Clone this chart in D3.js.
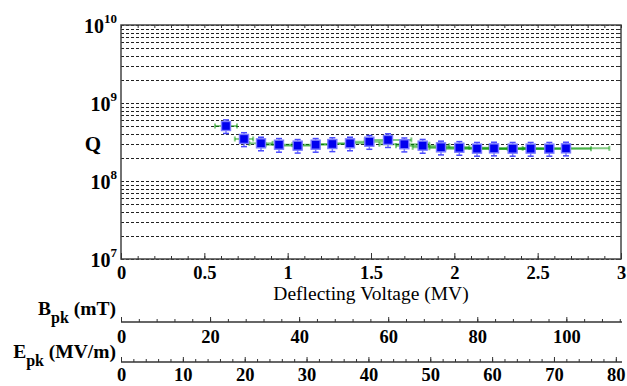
<!DOCTYPE html>
<html>
<head>
<meta charset="utf-8">
<script src="https://cdn.jsdelivr.net/npm/d3@7"></script>
<style>
  body { margin: 0; background: #fff; }
  svg { display: block; }
  svg text { font-family: "Liberation Serif", "Times New Roman", "DejaVu Serif", serif; }
</style>
</head>
<body>
<svg id="chart" width="627" height="386"></svg>
<script>
// measured points: deflecting voltage (MV) vs Q
const voltage = [0.63, 0.738, 0.84, 0.948, 1.06, 1.168, 1.268, 1.374, 1.49, 1.602,
                 1.70, 1.81, 1.92, 2.03, 2.136, 2.238, 2.35, 2.458, 2.57, 2.67];
const qValue = [5.07e8, 3.46e8, 3.04e8, 2.92e8, 2.84e8, 2.92e8, 2.98e8, 3.04e8, 3.19e8, 3.36e8,
                2.96e8, 2.84e8, 2.70e8, 2.67e8, 2.60e8, 2.62e8, 2.60e8, 2.60e8, 2.60e8, 2.62e8];
const qErr = [1.0e8, 0.7e8, 0.6e8, 0.58e8, 0.56e8, 0.58e8, 0.6e8, 0.6e8, 0.64e8, 0.67e8,
              0.6e8, 0.57e8, 0.54e8, 0.53e8, 0.52e8, 0.52e8, 0.52e8, 0.52e8, 0.52e8, 0.52e8];
const vErr = [0.066, 0.055, 0.07, 0.08, 0.09, 0.1, 0.11, 0.12, 0.13, 0.14,
              0.15, 0.16, 0.17, 0.18, 0.19, 0.2, 0.21, 0.23, 0.25, 0.26];

const xTickLabels = [0, 0.5, 1, 1.5, 2, 2.5, 3];
const yDecades = [1e7, 1e8, 1e9, 1e10];
const bpkTicks = [0, 20, 40, 60, 80, 100];
const epkTicks = [0, 10, 20, 30, 40, 50, 60, 70, 80];
const bpkMax = 112.5;   // mT at 3 MV
const epkMax = 81;      // MV/m at 3 MV

const serif = '"Liberation Serif", "Times New Roman", "DejaVu Serif", serif';
const svg = d3.select("#chart").attr("font-family", serif);
const pLeft = 121, pRight = 621, pTop = 25, pBottom = 259;
const tickFont = 18.5;

const x = d3.scaleLinear().domain([0, 3]).range([pLeft, pRight]);
const y = d3.scaleLog().domain([1e7, 1e10]).range([pBottom, pTop]);

// grid lines
svg.append("g")
  .selectAll("line")
  .data(y.ticks())
  .join("line")
  .attr("x1", pLeft).attr("x2", pRight)
  .attr("y1", d => Math.round(y(d)) + 0.5)
  .attr("y2", d => Math.round(y(d)) + 0.5)
  .attr("stroke", "#222")
  .attr("stroke-width", 1)
  .attr("stroke-dasharray", "3,2");

// right side ticks
svg.append("g")
  .selectAll("line")
  .data(y.ticks())
  .join("line")
  .attr("x1", pRight - 4).attr("x2", pRight)
  .attr("y1", d => Math.round(y(d)) + 0.5)
  .attr("y2", d => Math.round(y(d)) + 0.5)
  .attr("stroke", "#333");

// frame
svg.append("rect")
  .attr("x", pLeft).attr("y", pTop)
  .attr("width", pRight - pLeft).attr("height", pBottom - pTop)
  .attr("fill", "none")
  .attr("stroke", "#444")
  .attr("stroke-width", 1.5);

// bottom axis, minor + major ticks pointing in
const minorX = d3.range(0, 31).map(i => i / 10);
svg.append("g")
  .attr("transform", "translate(0," + pBottom + ")")
  .call(d3.axisBottom(x).tickValues(minorX).tickSize(-3).tickSizeOuter(0).tickFormat(""))
  .call(g => g.select(".domain").remove());
svg.append("g")
  .attr("transform", "translate(0," + pBottom + ")")
  .call(d3.axisBottom(x).tickValues(xTickLabels).tickSize(-6).tickSizeOuter(0).tickPadding(7)
    .tickFormat(d => d))
  .call(g => g.select(".domain").remove())
  .selectAll("text")
  .attr("font-size", tickFont).attr("font-weight", "bold").attr("fill", "#000")
  .attr("font-family", serif);
// top mirror ticks
svg.append("g")
  .attr("transform", "translate(0," + pTop + ")")
  .call(d3.axisTop(x).tickValues(minorX).tickSize(-3).tickSizeOuter(0).tickFormat(""))
  .call(g => g.select(".domain").remove());

svg.append("text")
  .attr("x", (pLeft + pRight) / 2).attr("y", 300)
  .attr("text-anchor", "middle")
  .attr("font-family", serif)
  .attr("font-size", 19.5)
  .text("Deflecting Voltage (MV)");

// y labels 10^n
const yLab = svg.append("g").selectAll("text")
  .data(yDecades)
  .join("text")
  .attr("x", 117)
  .attr("y", d => y(d) + 7.5)
  .attr("text-anchor", "end")
  .attr("font-family", serif)
  .attr("font-weight", "bold")
  .attr("font-size", 20);
yLab.append("tspan").text("10");
yLab.append("tspan").attr("dy", -10).attr("font-size", 13).text(d => Math.round(Math.log10(d)));

svg.append("text")
  .attr("x", 93).attr("y", 151)
  .attr("text-anchor", "middle")
  .attr("font-family", serif)
  .attr("font-weight", "bold")
  .attr("font-size", 21)
  .text("Q");

// data
const pts = voltage.map((v, i) => ({ v, q: qValue[i], qe: qErr[i], ve: vErr[i] }));

// horizontal (voltage) error bars
const gx = svg.append("g").attr("stroke", "#0a9a0a").attr("stroke-opacity", 0.5).attr("stroke-width", 2);
gx.selectAll("line.h").data(pts).join("line").attr("class", "h")
  .attr("x1", d => x(d.v - d.ve)).attr("x2", d => x(d.v + d.ve))
  .attr("y1", d => y(d.q)).attr("y2", d => y(d.q));
gx.selectAll("line.cl").data(pts).join("line").attr("class", "cl")
  .attr("x1", d => x(d.v - d.ve)).attr("x2", d => x(d.v - d.ve))
  .attr("y1", d => y(d.q) - 2.5).attr("y2", d => y(d.q) + 2.5);
gx.selectAll("line.cr").data(pts).join("line").attr("class", "cr")
  .attr("x1", d => x(d.v + d.ve)).attr("x2", d => x(d.v + d.ve))
  .attr("y1", d => y(d.q) - 2.5).attr("y2", d => y(d.q) + 2.5);

// vertical (Q) error bars
const gy = svg.append("g").attr("stroke", "#4a4aff").attr("stroke-width", 1.5);
gy.selectAll("line.v").data(pts).join("line").attr("class", "v")
  .attr("stroke-opacity", 0.7)
  .attr("x1", d => x(d.v)).attr("x2", d => x(d.v))
  .attr("y1", d => y(d.q + d.qe)).attr("y2", d => y(d.q - d.qe));
gy.selectAll("line.t").data(pts).join("line").attr("class", "t")
  .attr("x1", d => x(d.v) - 3).attr("x2", d => x(d.v) + 3)
  .attr("y1", d => y(d.q + d.qe)).attr("y2", d => y(d.q + d.qe));
gy.selectAll("line.b").data(pts).join("line").attr("class", "b")
  .attr("x1", d => x(d.v) - 3).attr("x2", d => x(d.v) + 3)
  .attr("y1", d => y(d.q - d.qe)).attr("y2", d => y(d.q - d.qe));

svg.append("g").selectAll("rect")
  .data(pts)
  .join("rect")
  .attr("x", d => x(d.v) - 4.5).attr("y", d => y(d.q) - 4.5)
  .attr("width", 9).attr("height", 9)
  .attr("fill", "#0000ee")
  .attr("stroke", "#7a7aff")
  .attr("stroke-width", 1.4);

// secondary axes: Bpk and Epk
function extraAxis(yPos, max, majors, minorStep, label, pad, labelY) {
  const s = d3.scaleLinear().domain([0, max]).range([pLeft, pRight + 1]);
  const minors = d3.range(0, max + 0.001, minorStep);
  svg.append("line")
    .attr("x1", pLeft).attr("x2", pRight + 1)
    .attr("y1", yPos).attr("y2", yPos)
    .attr("stroke", "#333").attr("stroke-width", 1.3);
  svg.append("g")
    .attr("transform", "translate(0," + yPos + ")")
    .call(d3.axisBottom(s).tickValues(minors).tickSize(-3).tickSizeOuter(0).tickFormat(""))
    .call(g => g.select(".domain").remove());
  svg.append("g")
    .attr("transform", "translate(0," + yPos + ")")
    .call(d3.axisBottom(s).tickValues(majors).tickSize(-5).tickSizeOuter(0).tickPadding(pad)
      .tickFormat(d => d))
    .call(g => g.select(".domain").remove())
    .selectAll("text")
    .attr("font-size", tickFont).attr("font-weight", "bold").attr("fill", "#000")
    .attr("font-family", serif);
  const t = svg.append("text")
    .attr("x", 116).attr("y", labelY)
    .attr("text-anchor", "end")
    .attr("font-family", serif)
    .attr("font-weight", "bold")
    .attr("font-size", 19.5);
  t.append("tspan").text(label[0]);
  t.append("tspan").attr("dy", 8).attr("font-size", 16).text("pk");
  t.append("tspan").attr("dy", -8).text(" " + label[1]);
}
extraAxis(322, bpkMax, bpkTicks, 4, ["B", "(mT)"], 8, 315);
extraAxis(362, epkMax, epkTicks, 2, ["E", "(MV/m)"], 5.5, 358);
svg.selectAll(".tick line").attr("stroke", "#333");
</script>
</body>
</html>
